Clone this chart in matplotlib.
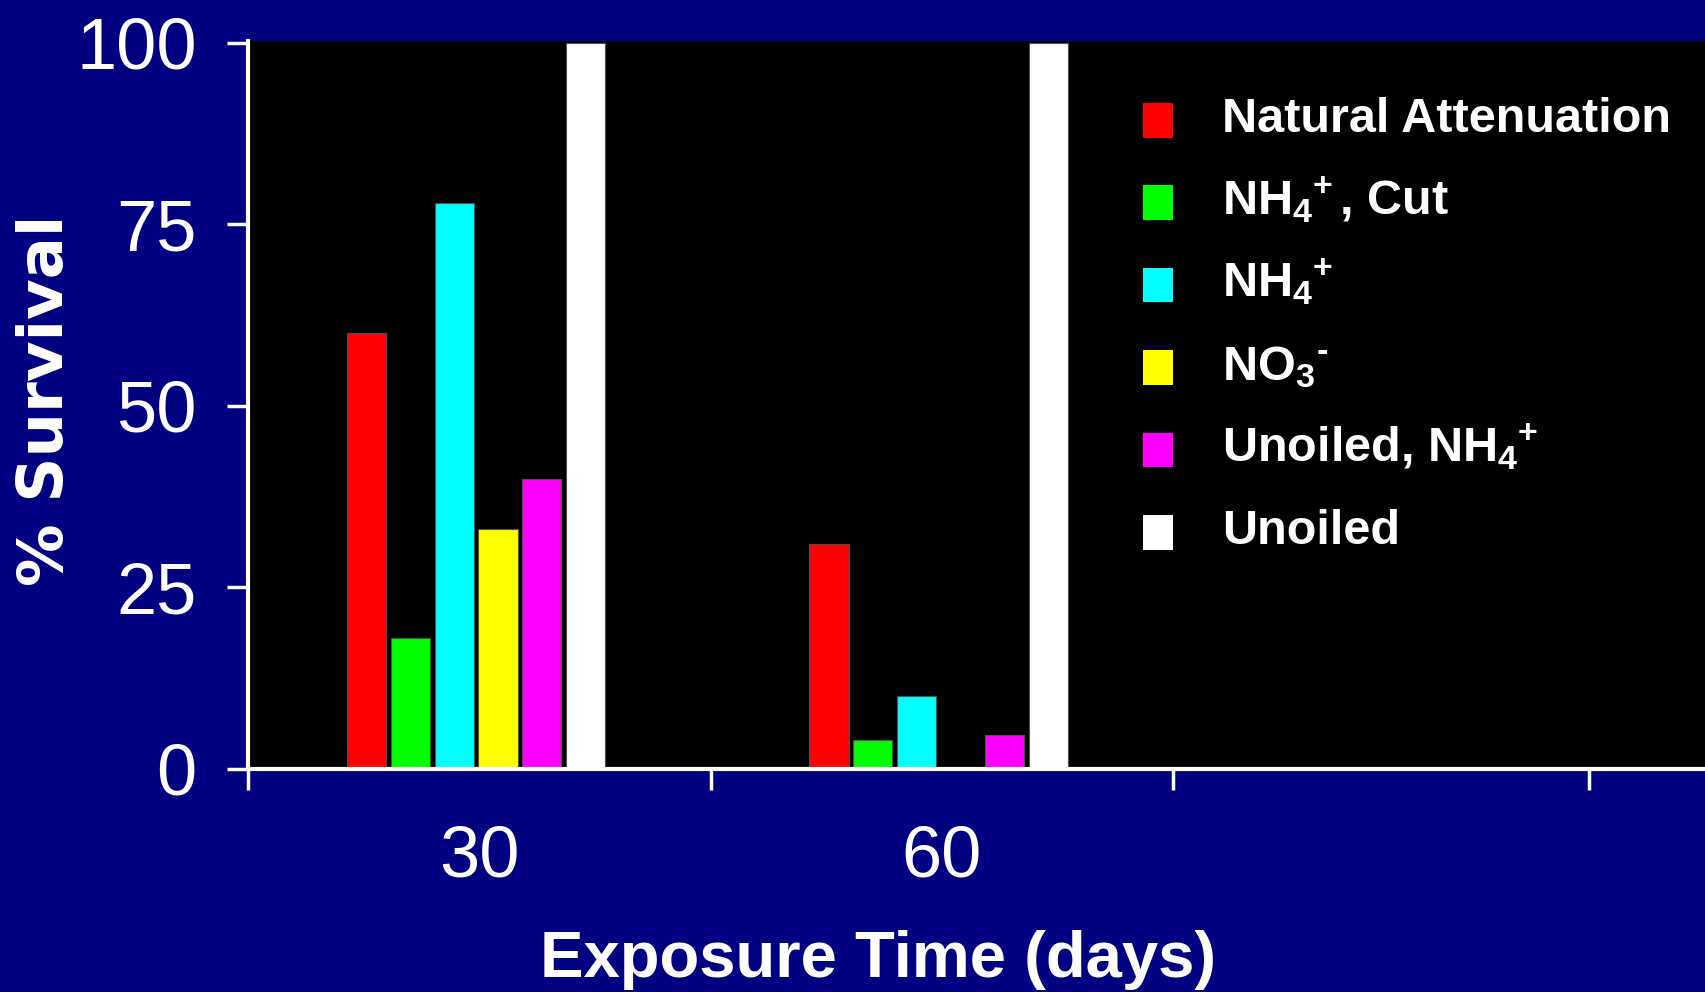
import matplotlib
matplotlib.use('Agg')
import matplotlib.pyplot as plt
from matplotlib.patches import Rectangle
import numpy as np

# data
days = ['30', '60']
series = ['Natural Attenuation', r'NH$_4\!{}^+$, Cut', r'NH$_4\!{}^+$', r'NO$_3{}^{\text{-}}$',
          r'Unoiled, NH$_4\!{}^+$', 'Unoiled']
colors = ['#FF0000', '#00FF00', '#00FFFF', '#FFFF00', '#FF00FF', '#FFFFFF']
survival = [
    [60, 31],    # natural attenuation
    [18, 4],     # NH4+, cut
    [78, 10],    # NH4+
    [33, 0],     # NO3-
    [40, 4.7],   # unoiled, NH4+
    [100, 100],  # unoiled
]
yticks = [0, 25, 50, 75, 100]

plt.rcParams['font.family'] = ['Liberation Sans', 'DejaVu Sans']
plt.rcParams['mathtext.fontset'] = 'custom'
plt.rcParams['mathtext.rm'] = 'Liberation Sans:bold'
plt.rcParams['mathtext.it'] = 'Liberation Sans:bold'
plt.rcParams['mathtext.bf'] = 'Liberation Sans:bold'
plt.rcParams['mathtext.default'] = 'rm'

navy = '#000080'
fig = plt.figure(figsize=(17.05, 9.92), dpi=100, facecolor=navy)
ax = fig.add_axes([0.1455, 0.2248, 0.8545, 0.7339])
ax.set_facecolor('black')

x = np.arange(len(days))
pitch = 0.0948
width = 0.0846
n = len(series)
for i in range(n):
    off = (i - (n - 1) / 2.0) * pitch - 0.007
    ax.bar(x + off, survival[i], width, color=colors[i],
           edgecolor='#505050', linewidth=0.8, zorder=2)

ax.set_xlim(-0.5, 2.65)
ax.set_ylim(0, 100.25)

for s in ['top', 'right']:
    ax.spines[s].set_visible(False)
for s in ['left', 'bottom']:
    ax.spines[s].set_color('white')
    ax.spines[s].set_linewidth(3)
    ax.spines[s].set_zorder(3)

ax.set_yticks(yticks)
ax.tick_params(axis='y', colors='white', direction='out', length=15,
               width=2.5, pad=22, labelsize=52)
ax.set_xticks(x)
ax.set_xticklabels(days)
ax.tick_params(axis='x', which='major', colors='white', length=0,
               pad=40, labelsize=52)
ax.set_xticks([-0.5, 0.5, 1.5, 2.4], minor=True)
ax.tick_params(axis='x', which='minor', colors='white', direction='out',
               length=15, width=2.5)

fig.text(0.027, 0.596, '% Survival', rotation=90, ha='center', va='center',
         color='white', fontsize=45, weight='bold', family='DejaVu Sans')
fig.text(0.515, 0.015, 'Exposure Time (days)', ha='center', va='baseline',
         color='white', fontsize=47, weight='bold')

# legend, drawn by hand so the rows are evenly spaced
W, H = 1705.0, 992.0
for i in range(n):
    top = 103 + i * 82.4
    fig.patches.append(Rectangle((1143 / W, 1 - (top + 34.5) / H), 30 / W, 34.5 / H,
                                 transform=fig.transFigure, facecolor=colors[i],
                                 edgecolor='none', zorder=5))
    fig.text(1222 / W, 1 - (top + 29.5) / H, series[i], ha='left', va='baseline',
             color='white', fontsize=35, weight='bold', zorder=6)

plt.savefig('out.png', dpi=100, facecolor=fig.get_facecolor())
